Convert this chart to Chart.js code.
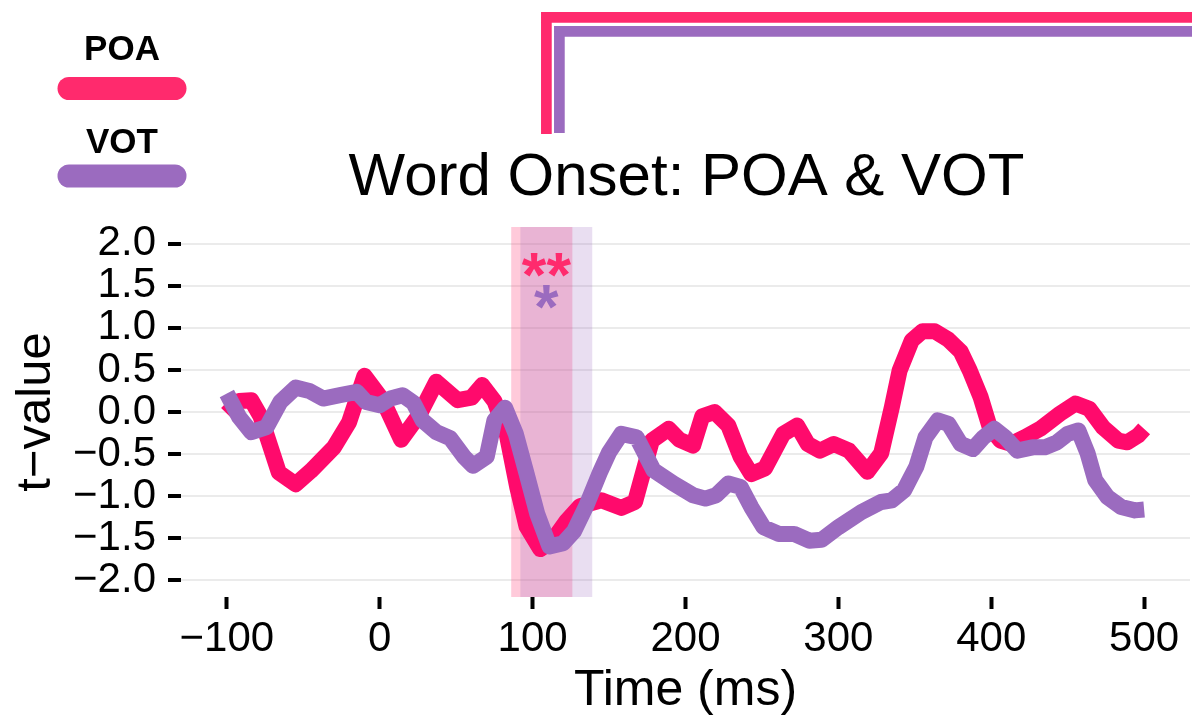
<!DOCTYPE html>
<html>
<head>
<meta charset="utf-8">
<title>Word Onset: POA &amp; VOT</title>
<script src="https://cdn.jsdelivr.net/npm/chart.js@4.4.1/dist/chart.umd.min.js"></script>
<style>
  html, body { margin: 0; padding: 0; background: #fff; }
  canvas { display: block; }
</style>
</head>
<body>
<canvas id="tplot" width="1192" height="722"></canvas>
<script>
'use strict';

const plotTitle = 'Word Onset: POA & VOT';
const seriesNames = ['POA', 'VOT'];
const lineColors = ['#ff0a6c', '#9b6bbf'];
const keyColors = ['#ff2a6d', '#9b6bbf'];

// time (ms) and t-value for each feature
const poaTimes = [-100, -92, -84, -78, -66, -55, -45, -30, -20, -10, 2, 14, 26, 37, 51, 60, 67, 75, 83, 90,
  96, 105, 113, 122, 131, 145, 158, 167, 178, 189, 196, 205, 211, 219, 228, 236, 243, 252, 264, 273,
  280, 288, 297, 307, 319, 328, 335, 340, 348, 355, 363, 372, 380, 386, 393, 399, 406, 413, 422, 432,
  445, 455, 464, 473, 483, 489, 496, 500];
const poaValues = [-0.02, 0.13, 0.14, -0.05, -0.72, -0.86, -0.7, -0.42, -0.12, 0.43, 0.14, -0.33, -0.03, 0.36, 0.14, 0.17, 0.32, 0.13, -0.26, -0.9,
  -1.36, -1.63, -1.53, -1.3, -1.12, -1.05, -1.14, -1.07, -0.34, -0.2, -0.33, -0.4, -0.05, 0.0, -0.16, -0.53, -0.74, -0.67, -0.26, -0.16,
  -0.38, -0.46, -0.38, -0.46, -0.71, -0.49, 0.06, 0.49, 0.85, 0.96, 0.96, 0.86, 0.72, 0.49, 0.18, -0.18, -0.34, -0.38, -0.3, -0.2,
  -0.02, 0.1, 0.04, -0.18, -0.34, -0.36, -0.28, -0.2];

const votTimes = [-100, -92, -84, -74, -65, -55, -46, -37, -26, -15, -9, 0, 7, 15, 22, 28, 37, 46, 55, 61,
  70, 75, 82, 89, 96, 103, 111, 120, 127, 135, 144, 150, 158, 168, 179, 192, 205, 213, 220, 228,
  236, 243, 251, 261, 271, 281, 289, 300, 315, 328, 335, 343, 351, 357, 365, 372, 380, 388, 395, 402,
  409, 417, 427, 435, 443, 450, 457, 463, 468, 476, 485, 494, 500];
const votValues = [0.22, -0.06, -0.24, -0.18, 0.12, 0.29, 0.25, 0.16, 0.2, 0.24, 0.12, 0.08, 0.16, 0.2, 0.11, -0.1, -0.24, -0.31, -0.53, -0.64,
  -0.53, -0.1, 0.05, -0.26, -0.73, -1.21, -1.6, -1.56, -1.42, -1.12, -0.72, -0.48, -0.26, -0.3, -0.69, -0.85, -0.99, -1.03, -0.99, -0.85,
  -0.89, -1.13, -1.37, -1.45, -1.45, -1.53, -1.52, -1.37, -1.19, -1.07, -1.05, -0.93, -0.65, -0.3, -0.1, -0.14, -0.38, -0.44, -0.3, -0.2,
  -0.3, -0.46, -0.42, -0.42, -0.36, -0.26, -0.22, -0.49, -0.81, -1.01, -1.13, -1.17, -1.16];

// significant windows (ms) and the star labels above them
const sigWindows = [[86, 126], [92, 139]];
const sigStars = ['**', '*'];
const starLevels = [1.78, 1.40];

const xTicks = [-100, 0, 100, 200, 300, 400, 500];
const yTicks = [-2, -1.5, -1, -0.5, 0, 0.5, 1, 1.5, 2];

const FONT = "'Liberation Sans', Arial, Helvetica, sans-serif";
Chart.defaults.font.family = FONT;
Chart.defaults.color = '#000';

function toPoints(times, values){
    return times.map((t, i) => ({x: t, y: values[i]}));
}

function minusSign(v, digits){
    let s = Math.abs(v).toFixed(digits);
    return v < 0 ? '\u2212' + s : s;
}

// shaded windows, stars, title, key and the brackets above the plot
const decorPlugin = {
    id: 'decor',
    beforeDatasetsDraw(chart){
        const {ctx, chartArea, scales: {x}} = chart;
        const fills = ['rgba(255, 42, 109, 0.25)', 'rgba(155, 107, 192, 0.22)'];
        ctx.save();
        sigWindows.forEach((w, i) => {
            let x0 = x.getPixelForValue(w[0]);
            let x1 = x.getPixelForValue(w[1]);
            ctx.fillStyle = fills[i];
            ctx.fillRect(x0, chartArea.top, x1 - x0, chartArea.bottom - chartArea.top);
        });
        ctx.restore();
    },
    afterDatasetsDraw(chart){
        const {ctx, chartArea, scales: {x, y}} = chart;
        ctx.save();

        // stars sit over the overlap of the two windows
        let lo = Math.max(sigWindows[0][0], sigWindows[1][0]);
        let hi = Math.min(sigWindows[0][1], sigWindows[1][1]);
        let cx = x.getPixelForValue((lo + hi) / 2);
        let starSize = 63;
        ctx.font = 'bold ' + starSize + 'px ' + FONT;
        ctx.textAlign = 'center';
        ctx.textBaseline = 'alphabetic';
        sigStars.forEach((s, i) => {
            ctx.fillStyle = keyColors[i];
            ctx.fillText(s, cx, y.getPixelForValue(starLevels[i]) + starSize * 0.54);
        });

        // title
        ctx.fillStyle = '#000';
        ctx.font = '60px ' + FONT;
        ctx.fillText(plotTitle, (chartArea.left + chartArea.right) / 2 + 1, 195);

        // key: bold name over a rounded bar
        const keyRows = [{text: 60, bar: 88.5}, {text: 153, bar: 176}];
        chart.data.datasets.forEach((ds, i) => {
            ctx.fillStyle = '#000';
            ctx.font = 'bold 35px ' + FONT;
            ctx.fillText(ds.label, 122, keyRows[i].text);
            ctx.strokeStyle = keyColors[i];
            ctx.lineWidth = 23;
            ctx.lineCap = 'round';
            ctx.beginPath();
            ctx.moveTo(69, keyRows[i].bar);
            ctx.lineTo(175, keyRows[i].bar);
            ctx.stroke();
        });

        // brackets running off to the right
        ctx.lineCap = 'butt';
        ctx.lineJoin = 'miter';
        const brackets = [{dx: 0, top: 17.3, end: 134}, {dx: 13, top: 31.3, end: 133}];
        brackets.forEach((b, i) => {
            ctx.strokeStyle = keyColors[i];
            ctx.lineWidth = 10.7;
            ctx.beginPath();
            ctx.moveTo(cx + b.dx, b.end);
            ctx.lineTo(cx + b.dx, b.top);
            ctx.lineTo(chart.width + 10, b.top);
            ctx.stroke();
        });
        ctx.restore();
    }
};

const config = {
    type: 'line',
    data: {
        datasets: [{
            label: seriesNames[0],
            data: toPoints(poaTimes, poaValues),
            borderColor: lineColors[0],
            order: 2
        }, {
            label: seriesNames[1],
            data: toPoints(votTimes, votValues),
            borderColor: lineColors[1],
            order: 1
        }]
    },
    options: {
        responsive: false,
        animation: false,
        devicePixelRatio: 1,
        layout: {padding: {top: 227, right: 2, left: 0, bottom: 0}},
        elements: {
            line: {borderWidth: 16, tension: 0, borderJoinStyle: 'round', borderCapStyle: 'butt'},
            point: {radius: 0, hoverRadius: 0}
        },
        plugins: {
            legend: {display: false},
            tooltip: {enabled: false}
        },
        scales: {
            x: {
                type: 'linear',
                min: -130,
                max: 530,
                afterBuildTicks: (axis) => { axis.ticks = xTicks.map(v => ({value: v})); },
                afterFit: (axis) => { axis.height = 125; },
                border: {display: false},
                grid: {drawOnChartArea: false, drawTicks: true, tickLength: 12, tickColor: '#000', tickWidth: 4},
                ticks: {
                    font: {size: 42},
                    color: '#000',
                    padding: 5,
                    maxRotation: 0,
                    autoSkip: false,
                    callback: (v) => minusSign(v, 0)
                },
                title: {display: true, text: 'Time (ms)', font: {size: 50}, color: '#000', padding: {top: 0, bottom: 1}}
            },
            y: {
                min: -2.2,
                max: 2.2,
                afterBuildTicks: (axis) => { axis.ticks = yTicks.map(v => ({value: v})); },
                afterFit: (axis) => { axis.width = 181; },
                border: {display: false},
                grid: {color: '#ebebeb', lineWidth: 2, drawTicks: true, tickLength: 13, tickColor: '#000', tickWidth: 4},
                ticks: {
                    font: {size: 42},
                    color: '#000',
                    padding: 12,
                    autoSkip: false,
                    callback: (v) => minusSign(v, 1)
                },
                title: {display: true, text: 't\u2212value', font: {size: 49}, color: '#000', padding: {top: 7, bottom: 0}}
            }
        }
    },
    plugins: [decorPlugin]
};

const tplot = new Chart(document.getElementById('tplot'), config);
</script>
</body>
</html>
